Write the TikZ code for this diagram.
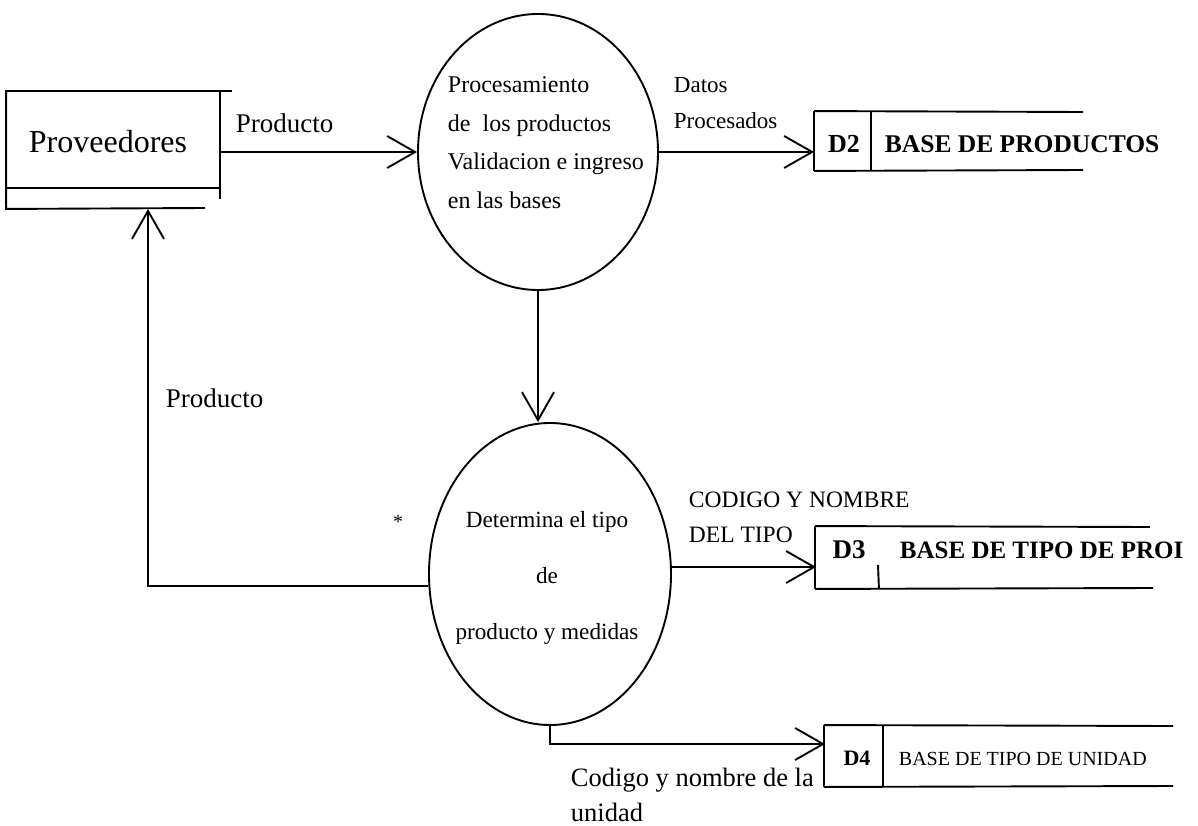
\documentclass[tikz,border=0pt]{standalone}
\usepackage{fontspec}
\setmainfont{Liberation Serif}
\usetikzlibrary{shapes.geometric,arrows.meta}

\tikzset{
  flow/.style={-{Straight Barb[length=28pt,width=32pt]}},
  bubble/.style={ellipse, draw, inner sep=0pt},
  storecell/.style={rectangle, inner sep=0pt},
  storeid/.style={inner sep=0pt, anchor=base, font=\bfseries\fontsize{24}{28}\selectfont},
  lbl/.style={inner sep=0pt, anchor=base west},
  lines/.style={inner sep=0pt, anchor=north west, align=left},
}

\begin{document}
\begin{tikzpicture}[x=1pt, y=-1pt, line width=1.9pt]
    \useasboundingbox (0,0) rectangle (1198,826);
    % Draw the external entity
    \node[storecell, minimum width=213pt, minimum height=117pt] (prov) at (113.5,149.5) {};
    \draw (7,91) -- (232,91);
    \draw (prov.north west) -- (prov.south west) -- (205,208);
    \draw (220,91) -- (220,199);
    \draw (7,188) -- (220,188);
    \node[lbl, font=\fontsize{32}{36}\selectfont] (provtxt) at (28,153) {Proveedores};
    % Draw the two processes
    \node[bubble, minimum width=240pt, minimum height=276pt] (e1) at (538,152) {};
    \node[lines, font=\fontsize{24}{38.5}\selectfont] (e1txt) at (447,76)
      {Procesamiento\\de\ \ los productos\\Validacion e ingreso\\en las bases};
    \node[bubble, minimum width=242pt, minimum height=302pt] (e2) at (550,574) {};
    \node[inner sep=0pt, anchor=north, align=center, font=\fontsize{23.2}{56}\selectfont] (e2txt) at (547,510)
      {Determina el tipo\\de\\producto y medidas};
    \node[font=\fontsize{20}{24}\selectfont] (star) at (398,522) {*};
    % Draw the data stores
    \node[storecell, minimum width=55pt, minimum height=58pt] (d2) at (842.5,141) {};
    \node[storeid, font=\bfseries\fontsize{26}{30}\selectfont] (d2id) at (844,153) {D2};
    \draw (d2.north west) -- (d2.south west);
    \draw (d2.north east) -- (d2.south east);
    \draw (d2.north west) -- (1083,112);
    \draw (d2.south west) -- (1083,170);
    \node[lbl, font=\bfseries\fontsize{25.5}{30}\selectfont] (d2lbl) at (884,153) {BASE DE PRODUCTOS};
    \node[storecell, minimum width=62pt, minimum height=61pt] (d3) at (847,557.5) {};
    \node[storeid, font=\bfseries\fontsize{27}{30}\selectfont] (d3id) at (849,558) {D3};
    \draw (d3.north west) -- (d3.south west);
    \draw (878,565) -- (d3.south east);
    \draw (d3.north west) -- (1150,527);
    \draw (d3.south west) -- (1153,588);
    \node[lbl, font=\bfseries\fontsize{25}{30}\selectfont] (d3lbl) at (899,558) {BASE DE TIPO DE PROI};
    \node[storecell, minimum width=57pt, minimum height=60pt] (d4) at (853.5,756) {};
    \node[storeid, font=\bfseries\fontsize{22}{26}\selectfont] (d4id) at (857,765) {D4};
    \draw (d4.north west) -- (d4.south west);
    \draw (d4.north east) -- (d4.south east);
    \draw (d4.north west) -- (1173,726);
    \draw (d4.south west) -- (1173,786);
    \node[lbl, font=\fontsize{20}{24}\selectfont] (d4lbl) at (898,765) {BASE DE TIPO DE UNIDAD};
    % Draw the flows
    \draw[flow] (prov.east |- e1.west) -- (e1.west);
    \draw[flow] (e1.east) -- (e1.east -| d2.west);
    \draw[flow] (e1.south) -- (e1.south |- e2.north);
    \coordinate (d3in) at (816,567);
    \draw[flow] (e2.east |- d3in) -- (d3in);
    \coordinate (d4in) at (825,744);
    \draw[flow] (e2.south) |- (d4in);
    \coordinate (retcorner) at (148,586);
    \draw[flow] (e2.west |- retcorner) -- (retcorner) -- (retcorner |- prov.south);
    % Add the flow labels
    \node[lbl, font=\fontsize{27}{32}\selectfont] (lprod1) at (235,133) {Producto};
    \node[lines, font=\fontsize{23}{36}\selectfont] (ldatos) at (673,76) {Datos\\Procesados};
    \node[lbl, font=\fontsize{27}{32}\selectfont] (lprod2) at (165,407) {Producto};
    \node[lines, font=\fontsize{23.5}{35}\selectfont] (lcodtipo) at (688,491) {CODIGO Y NOMBRE\\DEL TIPO};
    \node[lines, font=\fontsize{26.5}{35}\selectfont] (lcodunid) at (570,767) {Codigo y nombre de la\\unidad};
\end{tikzpicture}
\end{document}
